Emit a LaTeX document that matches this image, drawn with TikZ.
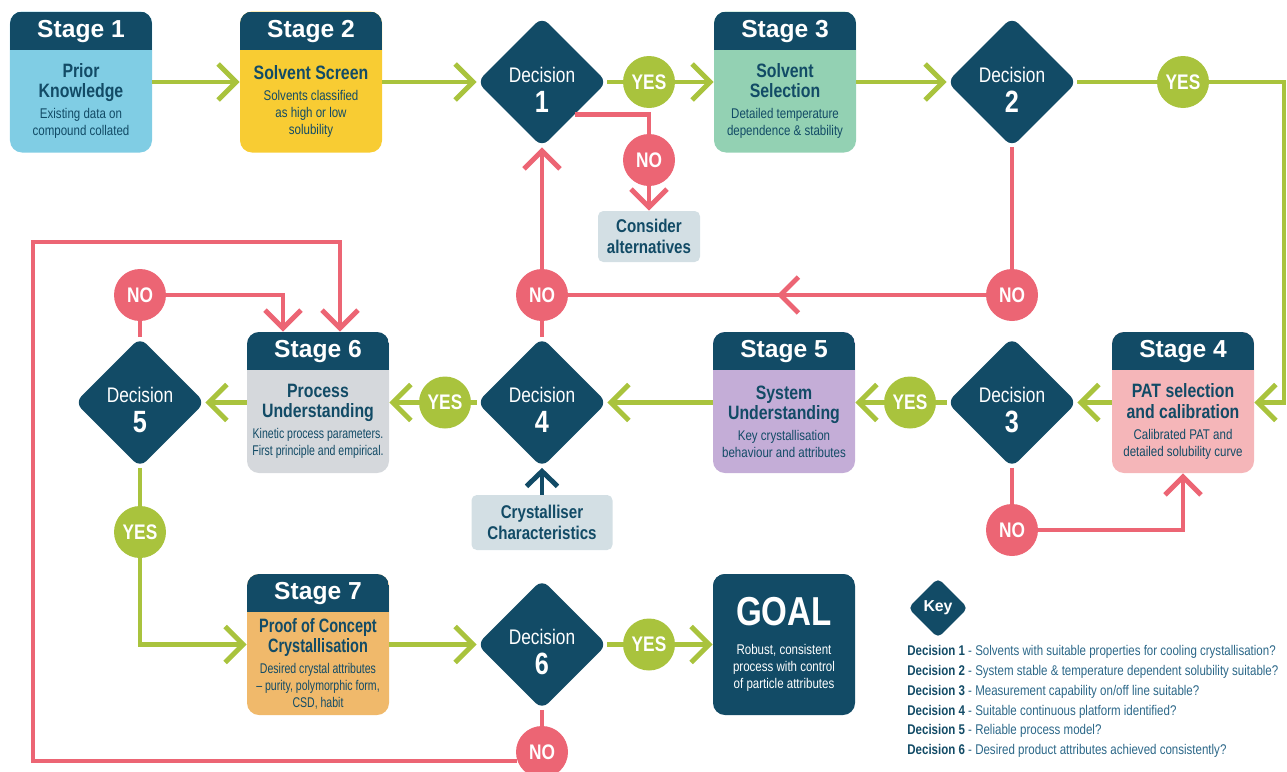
\documentclass[tikz,border=0pt]{standalone}
\usepackage{fontspec}
\setmainfont{Liberation Sans}
\newfontfamily\condfont{Liberation Sans}[FakeStretch=0.82]
\newfontfamily\slimfont{Liberation Sans}[FakeStretch=0.75]
\usetikzlibrary{shapes.geometric,arrows.meta,positioning,calc,decorations.markings}
\usepackage{xcolor}
\definecolor{Deep}{HTML}{124B66}
\definecolor{LimeGreen}{HTML}{A9C33D}
\definecolor{PinkRed}{HTML}{EC6574}
\definecolor{SkyFill}{HTML}{80CDE4}
\definecolor{SunFill}{HTML}{F8CC33}
\definecolor{MintFill}{HTML}{93D1B3}
\definecolor{RoseFill}{HTML}{F5B6B9}
\definecolor{LilacFill}{HTML}{C4ADD7}
\definecolor{MistFill}{HTML}{D5D8DC}
\definecolor{SandFill}{HTML}{F0B96B}
\definecolor{NoteFill}{HTML}{D3DFE4}
\definecolor{KeyBlue}{HTML}{2B6788}
\newcommand\fHead{\fontsize{14}{16}\selectfont\bfseries}
\newcommand\fTitle{\condfont\bfseries\fontsize{11}{11.5}\selectfont}
\newcommand\fSlimTitle{\slimfont\bfseries\fontsize{11}{11.5}\selectfont}
\newcommand\fDesc{\condfont\mdseries\fontsize{8}{9.6}\selectfont}
\newcommand\fSlimDesc{\slimfont\mdseries\fontsize{8}{9.6}\selectfont}
\newcommand\fDec{\condfont\fontsize{12}{14}\selectfont}
\newcommand\fNum{\condfont\bfseries\fontsize{17.5}{19}\selectfont}
\newcommand\fDot{\condfont\bfseries\fontsize{12}{14}\selectfont}
\newcommand\fNote{\condfont\bfseries\fontsize{10.5}{11.5}\selectfont}
\newcommand\fGoal{\condfont\bfseries\fontsize{23}{25}\selectfont}
\newcommand\fKey{\condfont\fontsize{8}{11.3}\selectfont}
\newcommand\stagetxt[2]{\parbox{2.8cm}{\centering #1\par\vspace{2.5pt}#2\par}}

\begin{document}
\begin{tikzpicture}[x=1cm,y=1cm,
  stagebox/.style={rectangle,rounded corners=0.24cm,minimum width=2.84cm,minimum height=2.82cm,inner sep=0pt,
    path picture={\fill[Deep,sharp corners] ([yshift=-0.76cm]path picture bounding box.north west) rectangle (path picture bounding box.north east);}},
  headtxt/.style={text=white,font=\fHead,inner sep=0pt},
  bodytxt/.style={text=Deep,inner sep=0pt},
  decision/.style={diamond,shape aspect=1,fill=Deep,rounded corners=5pt,minimum width=2.6cm,minimum height=2.6cm,inner sep=0pt},
  dectxt/.style={text=white,align=center,font=\fDec,inner sep=0pt},
  yesdot/.style={circle,fill=LimeGreen,minimum size=1.04cm,inner sep=0pt,text=white,font=\fDot},
  nodot/.style={circle,fill=PinkRed,minimum size=1.04cm,inner sep=0pt,text=white,font=\fDot},
  notebox/.style={rectangle,rounded corners=3pt,fill=NoteFill,text=Deep,align=center,font=\fNote,inner sep=0pt},
  yesline/.style={LimeGreen,line width=2.8pt},
  noline/.style={PinkRed,line width=2.8pt},
  yesarrow/.style={yesline,-{Straight Barb[length=0.36cm,width=0.72cm]}},
  noarrow/.style={noline,-{Straight Barb[length=0.36cm,width=0.72cm]}},
  deeparrow/.style={Deep,line width=2.8pt,-{Straight Barb[length=0.3cm,width=0.62cm]}},
  midchevron/.style={postaction={decorate,decoration={markings,mark=at position 0.5 with {\arrow[PinkRed,line width=2.8pt]{Straight Barb[length=0.36cm,width=0.72cm]}}}}}
]
\useasboundingbox (0,0) rectangle (25.74,-15.44);

% stages
\node[stagebox,fill=SkyFill] (s1) at (1.62,-1.64) {};
\node[headtxt] (s1h) at ([yshift=-0.4cm]s1.north) {Stage 1};
\node[bodytxt] (s1b) at ([yshift=-0.38cm]s1.center) {\stagetxt{\fTitle Prior\\Knowledge}{\fDesc Existing data on\\compound collated}};

\node[stagebox,fill=SunFill] (s2) at (6.22,-1.64) {};
\node[headtxt] (s2h) at ([yshift=-0.4cm]s2.north) {Stage 2};
\node[bodytxt] (s2b) at ([yshift=-0.38cm]s2.center) {\stagetxt{\fTitle Solvent Screen}{\fDesc Solvents classified\\as high or low\\solubility}};

\node[stagebox,fill=MintFill] (s3) at (15.7,-1.64) {};
\node[headtxt] (s3h) at ([yshift=-0.4cm]s3.north) {Stage 3};
\node[bodytxt] (s3b) at ([yshift=-0.38cm]s3.center) {\stagetxt{\fTitle Solvent\\Selection}{\fDesc Detailed temperature\\dependence \& stability}};

\node[stagebox,fill=RoseFill] (s4) at (23.66,-8.05) {};
\node[headtxt] (s4h) at ([yshift=-0.4cm]s4.north) {Stage 4};
\node[bodytxt] (s4b) at ([yshift=-0.38cm]s4.center) {\stagetxt{\fTitle PAT selection\\and calibration}{\fDesc Calibrated PAT and\\detailed solubility curve}};

\node[stagebox,fill=LilacFill] (s5) at (15.68,-8.05) {};
\node[headtxt] (s5h) at ([yshift=-0.4cm]s5.north) {Stage 5};
\node[bodytxt] (s5b) at ([yshift=-0.38cm]s5.center) {\stagetxt{\fTitle System\\Understanding}{\fDesc Key crystallisation\\behaviour and attributes}};

\node[stagebox,fill=MistFill] (s6) at (6.36,-8.05) {};
\node[headtxt] (s6h) at ([yshift=-0.4cm]s6.north) {Stage 6};
\node[bodytxt] (s6b) at ([yshift=-0.38cm]s6.center) {\stagetxt{\fTitle Process\\Understanding}{\fSlimDesc Kinetic process parameters.\\First principle and empirical.}};

\node[stagebox,fill=SandFill] (s7) at (6.36,-12.89) {};
\node[headtxt] (s7h) at ([yshift=-0.4cm]s7.north) {Stage 7};
\node[bodytxt] (s7b) at ([yshift=-0.38cm]s7.center) {\stagetxt{\fSlimTitle Proof of Concept\\Crystallisation}{\fSlimDesc Desired crystal attributes\\– purity, polymorphic form,\\CSD, habit}};

\node[stagebox,fill=Deep] (goal) at (15.68,-12.89) {};
\node[bodytxt,text=white] (goalt) at (goal.center) {\parbox{2.8cm}{\centering\fGoal GOAL\par\vspace{7pt}\fDesc Robust, consistent\\process with control\\of particle attributes\par}};

% decisions
\node[decision] (d1) at (10.84,-1.64) {};
\node[dectxt] (d1t) at ([yshift=-0.15cm]d1.center) {Decision\\[3pt]{\fNum 1}};
\node[decision] (d2) at (20.24,-1.64) {};
\node[dectxt] (d2t) at ([yshift=-0.15cm]d2.center) {Decision\\[3pt]{\fNum 2}};
\node[decision] (d3) at (20.24,-8.05) {};
\node[dectxt] (d3t) at ([yshift=-0.15cm]d3.center) {Decision\\[3pt]{\fNum 3}};
\node[decision] (d4) at (10.84,-8.05) {};
\node[dectxt] (d4t) at ([yshift=-0.15cm]d4.center) {Decision\\[3pt]{\fNum 4}};
\node[decision] (d5) at (2.8,-8.05) {};
\node[dectxt] (d5t) at ([yshift=-0.15cm]d5.center) {Decision\\[3pt]{\fNum 5}};
\node[decision] (d6) at (10.84,-12.89) {};
\node[dectxt] (d6t) at ([yshift=-0.15cm]d6.center) {Decision\\[3pt]{\fNum 6}};

% yes / no dots
\node[yesdot] (y1) at (12.98,-1.64) {YES};
\node[yesdot] (y2) at (23.66,-1.64) {YES};
\node[yesdot] (y3) at (18.2,-8.05) {YES};
\node[yesdot] (y4) at (8.9,-8.05) {YES};
\node[yesdot] (y5) at (2.8,-10.64) {YES};
\node[yesdot] (y6) at (12.98,-12.89) {YES};
\node[nodot] (n1) at (12.98,-3.2) {NO};
\node[nodot] (n2) at (20.24,-5.9) {NO};
\node[nodot] (n3) at (20.24,-10.6) {NO};
\node[nodot] (n4) at (10.84,-5.9) {NO};
\node[nodot] (n5) at (2.8,-5.9) {NO};
\node[nodot] (n6) at (10.84,-15.04) {NO};

\node[notebox,minimum width=2.04cm,minimum height=1.02cm] (alt) at (12.98,-4.73) {Consider\\alternatives};
\node[notebox,minimum width=2.82cm,minimum height=1.1cm] (cryst) at (10.84,-10.45) {Crystalliser\\Characteristics};

\coordinate (rside) at (25.68,-1.64);
\coordinate (loopdl) at (0.66,-4.84);

% green flow
\draw[yesarrow] (s1) -- (s2);
\draw[yesarrow] (s2) -- (d1);
\draw[yesline] (d1) -- (y1);
\draw[yesarrow] (y1) -- (s3);
\draw[yesarrow] (s3) -- (d2);
\draw[yesline] (d2) -- (y2);
\draw[yesarrow] (y2) -- (rside) |- (s4);
\draw[yesarrow] (s4) -- (d3);
\draw[yesline] (d3) -- (y3);
\draw[yesarrow] (y3) -- (s5);
\draw[yesarrow] (s5) -- (d4);
\draw[yesline] (d4) -- (y4);
\draw[yesarrow] (y4) -- (s6);
\draw[yesarrow] (s6) -- (d5);
\draw[yesline] (d5) -- (y5);
\draw[yesarrow] (y5) |- (s7);
\draw[yesarrow] (s7) -- (d6);
\draw[yesline] (d6) -- (y6);
\draw[yesarrow] (y6) -- (goal);
\draw[deeparrow] (cryst) -- (d4);

% red flow
\draw[noline] (d1.south east) -| (n1);
\draw[noarrow] (n1) -- (alt);
\draw[noline] (d2) -- (n2);
\draw[noline,midchevron] (n2) -- (n4);
\draw[noline] (d4) -- (n4);
\draw[noarrow] (n4) -- (d1);
\draw[noline] (d3) -- (n3);
\draw[noarrow] (n3) -| (s4);
\draw[noline] (d5) -- (n5);
\draw[noarrow] (n5) -| ([xshift=-0.7cm]s6.north);
\draw[noline] (d6) -- (n6);
\draw[noarrow] (n6.200) -| (loopdl) -| ([xshift=0.44cm]s6.north);

% key
\node[decision,minimum width=1.2cm,minimum height=1.2cm,rounded corners=3pt,text=white,font=\bfseries\fontsize{9}{10}\selectfont] (key) at (18.76,-12.16) {Key};
\node[anchor=north west,align=left,inner sep=0pt,text=KeyBlue,font=\fKey] (keylist) at (18.14,-12.9) {%
{\color{Deep}\bfseries Decision 1} - Solvents with suitable properties for cooling crystallisation?\\
{\color{Deep}\bfseries Decision 2} - System stable \& temperature dependent solubility suitable?\\
{\color{Deep}\bfseries Decision 3} - Measurement capability on/off line suitable?\\
{\color{Deep}\bfseries Decision 4} - Suitable continuous platform identified?\\
{\color{Deep}\bfseries Decision 5} - Reliable process model?\\
{\color{Deep}\bfseries Decision 6} - Desired product attributes achieved consistently?};
\end{tikzpicture}
\end{document}
